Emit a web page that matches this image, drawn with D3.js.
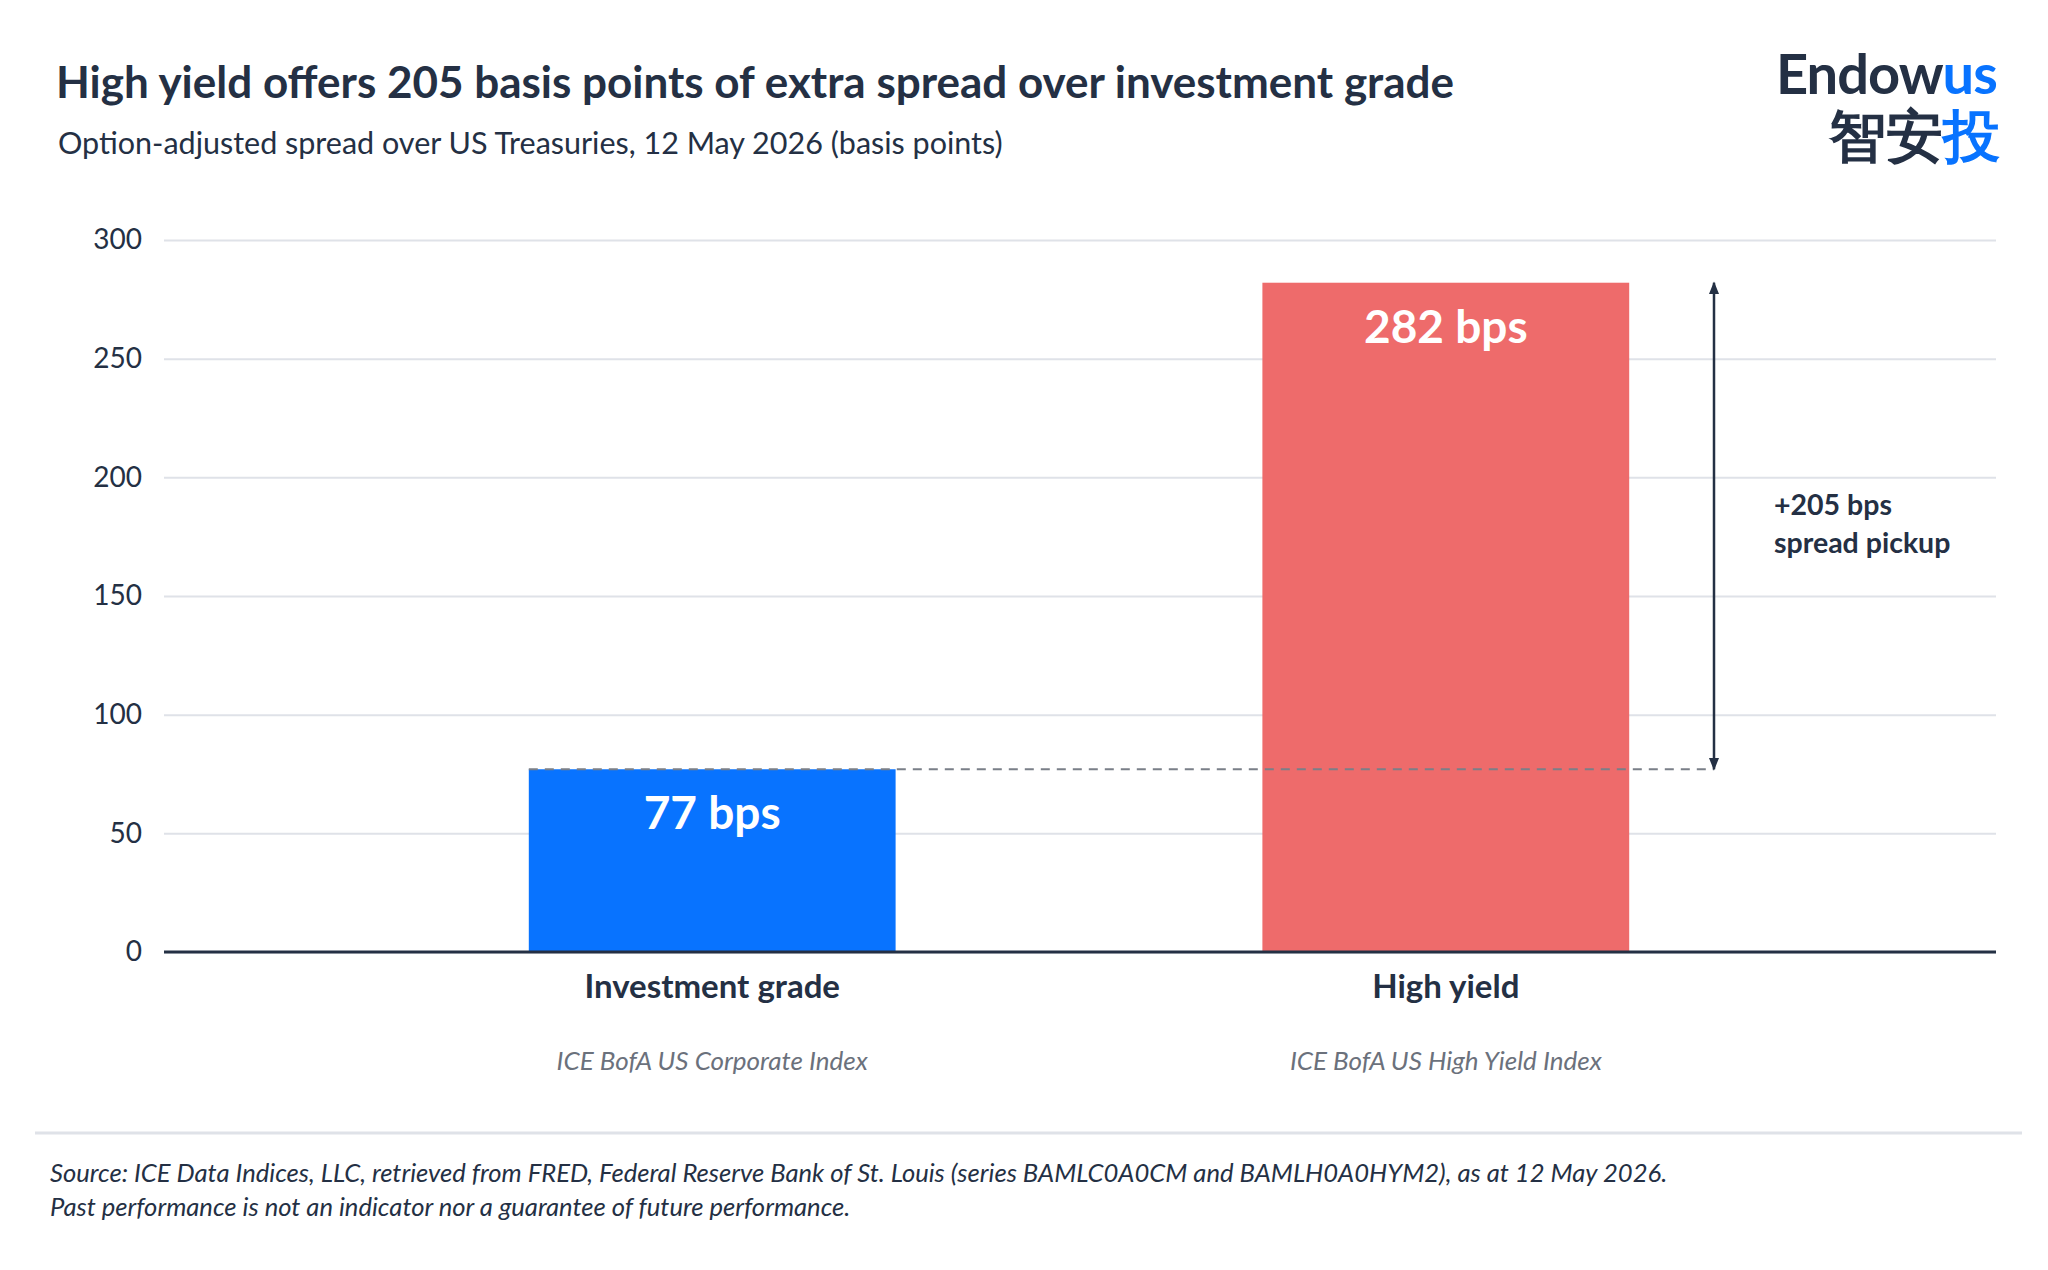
<!DOCTYPE html>
<html>
<head>
<meta charset="utf-8">
<script src="https://cdn.jsdelivr.net/npm/d3@7"></script>
<style>
  body { margin: 0; background: #fff; }
  text { font-family: Lato, "Noto Sans", sans-serif; }
</style>
</head>
<body>
<svg id="chart" width="2048" height="1270"></svg>
<script>
const categories = ["Investment grade", "High yield"];
const indexNames = ["ICE BofA US Corporate Index", "ICE BofA US High Yield Index"];
const spreads = [77, 282];
const yTicks = [0, 50, 100, 150, 200, 250, 300];

const navy = "#243044";
const colors = ["#0873FF", "#EE6B6B"];

const svg = d3.select("#chart");
const x = d3.scaleBand().domain(categories).range([162, 1996]).paddingInner(0.5).paddingOuter(0.5);
const y = d3.scaleLinear().domain([0, 300]).range([952, 240]);

// title
svg.append("text").attr("x", 56).attr("y", 98).attr("font-size", 44).attr("font-weight", 700)
  .attr("fill", navy).text("High yield offers 205 basis points of extra spread over investment grade");
svg.append("text").attr("x", 58).attr("y", 154).attr("font-size", 30.5).attr("fill", navy)
  .text("Option-adjusted spread over US Treasuries, 12 May 2026 (basis points)");

// logo
svg.append("text").attr("x", 1776).attr("y", 94).attr("font-size", 56).attr("font-weight", 700)
  .attr("fill", navy).attr("letter-spacing", -1)
  .html('Endow<tspan fill="#0873FF">us</tspan>');
svg.append("text").attr("x", 2000).attr("y", 156).attr("text-anchor", "end").attr("font-size", 57)
  .attr("font-weight", 700).attr("font-family", "'Noto Sans CJK SC'").attr("fill", navy)
  .html('智安<tspan fill="#0873FF">投</tspan>');

// grid + y axis
const yAxis = svg.append("g").attr("transform", "translate(164,0)")
  .call(d3.axisLeft(y).tickValues(yTicks).tickSize(-1832).tickPadding(22));
yAxis.select(".domain").remove();
yAxis.selectAll(".tick line").attr("stroke", "#dfe2e8").attr("stroke-width", 2);
yAxis.selectAll(".tick text").attr("font-size", 28).attr("fill", navy).style("font-family", "Lato");

// bars
svg.selectAll(".bar").data(spreads).join("rect")
  .attr("x", (d, i) => x(categories[i])).attr("width", x.bandwidth())
  .attr("y", d => y(d)).attr("height", d => y(0) - y(d))
  .attr("fill", (d, i) => colors[i]);

svg.selectAll(".val").data(spreads).join("text")
  .attr("x", (d, i) => x(categories[i]) + x.bandwidth() / 2).attr("y", d => y(d) + 60)
  .attr("text-anchor", "middle").attr("font-size", 46).attr("font-weight", 700).attr("fill", "#fff")
  .text(d => d + " bps");

// baseline
svg.append("line").attr("x1", 164).attr("x2", 1996).attr("y1", y(0)).attr("y2", y(0))
  .attr("stroke", navy).attr("stroke-width", 3);

// dashed reference + arrow
const arrowX = 1714;
svg.append("line").attr("x1", x(categories[0])).attr("x2", arrowX)
  .attr("y1", y(spreads[0])).attr("y2", y(spreads[0]))
  .attr("stroke", "#7a7f88").attr("stroke-width", 2).attr("stroke-dasharray", "9,7");
const defs = svg.append("defs");
defs.append("marker").attr("id", "ah").attr("viewBox", "0 0 10 10").attr("refX", 9).attr("refY", 5)
  .attr("markerWidth", 5).attr("markerHeight", 5).attr("orient", "auto-start-reverse")
  .append("path").attr("d", "M0,1 L10,5 L0,9 z").attr("fill", navy);
svg.append("line").attr("x1", arrowX).attr("x2", arrowX)
  .attr("y1", y(spreads[1])).attr("y2", y(spreads[0]))
  .attr("stroke", navy).attr("stroke-width", 2.5)
  .attr("marker-start", "url(#ah)").attr("marker-end", "url(#ah)");
const diff = spreads[1] - spreads[0];
svg.append("text").attr("x", 1774).attr("y", 515).attr("font-size", 28.5).attr("font-weight", 700)
  .attr("fill", navy).text("+" + diff + " bps");
svg.append("text").attr("x", 1774).attr("y", 553).attr("font-size", 28.5).attr("font-weight", 700)
  .attr("fill", navy).text("spread pickup");

// category labels
svg.selectAll(".cat").data(categories).join("text")
  .attr("x", d => x(d) + x.bandwidth() / 2).attr("y", 998).attr("text-anchor", "middle")
  .attr("font-size", 33).attr("font-weight", 700).attr("fill", navy).text(d => d);
svg.selectAll(".idx").data(indexNames).join("text")
  .attr("x", (d, i) => x(categories[i]) + x.bandwidth() / 2).attr("y", 1070).attr("text-anchor", "middle")
  .attr("font-size", 26).attr("font-style", "italic").attr("fill", "#6b717c").text(d => d);

// footer
svg.append("line").attr("x1", 35).attr("x2", 2022).attr("y1", 1133).attr("y2", 1133)
  .attr("stroke", "#dfe2e8").attr("stroke-width", 3);
svg.append("text").attr("x", 50).attr("y", 1182).attr("font-size", 25.6).attr("font-style", "italic")
  .attr("fill", navy)
  .text("Source: ICE Data Indices, LLC, retrieved from FRED, Federal Reserve Bank of St. Louis (series BAMLC0A0CM and BAMLH0A0HYM2), as at 12 May 2026.");
svg.append("text").attr("x", 50).attr("y", 1216).attr("font-size", 25.6).attr("font-style", "italic")
  .attr("fill", navy).text("Past performance is not an indicator nor a guarantee of future performance.");
</script>
</body>
</html>
